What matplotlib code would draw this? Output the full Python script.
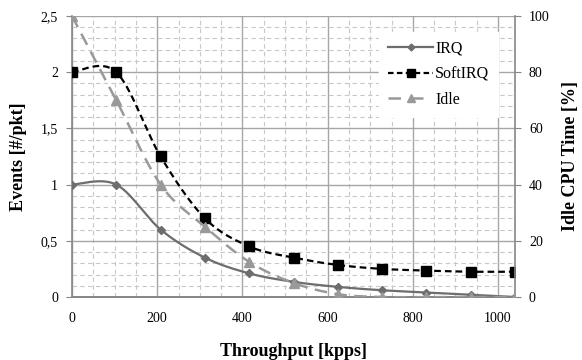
#!/usr/bin/env python3
"""Interrupt events and idle CPU time versus throughput (Excel-style smoothed lines)."""

import matplotlib

matplotlib.use("Agg")
import matplotlib.pyplot as plt
from matplotlib.ticker import FixedLocator, FuncFormatter, MultipleLocator
import numpy as np

plt.rcParams.update(
    {
        "font.family": ["Liberation Serif", "DejaVu Serif"],
        "font.size": 10,
    }
)

throughput = [0, 104, 208, 312, 416, 520, 624, 728, 832, 936, 1040]
irq = [1.0, 1.0, 0.6, 0.35, 0.21, 0.135, 0.09, 0.06, 0.04, 0.02, 0.0]
softirq = [2.0, 2.0, 1.25, 0.7, 0.45, 0.35, 0.285, 0.25, 0.235, 0.225, 0.225]
idle = [100, 70, 40, 25, 12.5, 5, 1, 0, 0, 0, 0]


def smooth(x, y, n=30):
    """Catmull-Rom curve through the points, like Excel's smoothed line."""
    pts = np.column_stack([x, y]).astype(float)
    ext = np.vstack([pts[0], pts, pts[-1]])
    out = []
    t = np.linspace(0.0, 1.0, n)[:, None]
    for i in range(len(pts) - 1):
        p0, p1, p2, p3 = ext[i], ext[i + 1], ext[i + 2], ext[i + 3]
        c1 = p1 + (p2 - p0) / 6.0
        c2 = p2 - (p3 - p1) / 6.0
        seg = ((1 - t) ** 3) * p1 + 3 * ((1 - t) ** 2) * t * c1 + 3 * (1 - t) * t ** 2 * c2 + t ** 3 * p2
        out.append(seg if i == 0 else seg[1:])
    seg = np.vstack(out)
    return seg[:, 0], seg[:, 1]


def comma(v, _pos):
    return f"{v:g}".replace(".", ",")


fig = plt.figure(figsize=(5.82, 3.6), dpi=100)
ax = fig.add_axes([0.1237, 0.175, 0.7613, 0.7806])
ax2 = ax.twinx()

grid_major = "#a6a6a6"
grid_minor = "#c8c8c8"
spine_col = "#868686"
irq_col = "#6d6d6d"
idle_col = "#999999"

ax.set_xlim(0, 1040)
ax.set_ylim(0, 2.5)
ax2.set_ylim(0, 100)

ax.xaxis.set_major_locator(FixedLocator([0, 200, 400, 600, 800, 1000]))
ax.xaxis.set_minor_locator(MultipleLocator(50))
ax.yaxis.set_major_locator(MultipleLocator(0.5))
ax.yaxis.set_minor_locator(MultipleLocator(0.1))
ax.yaxis.set_major_formatter(FuncFormatter(comma))
ax2.yaxis.set_major_locator(MultipleLocator(20))

ax.grid(which="minor", color=grid_minor, ls=(0, (4, 3)), lw=0.8)
ax.grid(which="major", color=grid_major, ls="-", lw=1.0)
ax.set_axisbelow(True)

for a in (ax, ax2):
    for sp in a.spines.values():
        sp.set_color(spine_col)
        sp.set_linewidth(1.2)
    a.spines["top"].set_visible(False)
    a.tick_params(which="major", length=4, color=spine_col, direction="out", pad=6, labelsize=10)
    a.tick_params(which="minor", length=0)
ax2.spines["left"].set_visible(False)
ax.spines["right"].set_visible(False)
ax.tick_params(axis="x", length=0, pad=11)

xs, ys = smooth(throughput, irq)
ax.plot(xs, ys, color=irq_col, lw=1.6, zorder=3)
ax.plot(throughput, irq, ls="none", marker="D", ms=4.5, color=irq_col, zorder=4)

xs, ys = smooth(throughput, softirq)
ax.plot(xs, ys, color="black", lw=1.6, ls=(0, (3, 1.8)), zorder=3)
ax.plot(throughput, softirq, ls="none", marker="s", ms=6.5, color="black", zorder=4)

xs, ys = smooth(throughput, idle)
ax2.plot(xs, ys, color=idle_col, lw=1.8, ls=(0, (5, 3)), zorder=3)
ax2.plot(throughput, idle, ls="none", marker="^", ms=6.5, color=idle_col, zorder=4)

# legend proxies combine line and marker
h1, = ax.plot([], [], color=irq_col, lw=1.6, marker="D", ms=3.5)
h2, = ax.plot([], [], color="black", lw=1.6, ls=(0, (2.5, 1.5)), marker="s", ms=5.5)
h3, = ax.plot([], [], color=idle_col, lw=1.8, ls=(0, (5, 4)), marker="^", ms=5.5)
leg = ax2.legend(
    [h1, h2, h3],
    ["IRQ", "SoftIRQ", "Idle"],
    loc="upper right",
    bbox_to_anchor=(0.962, 0.943),
    frameon=True,
    fancybox=False,
    framealpha=1.0,
    edgecolor="white",
    fontsize=11.5,
    handlelength=2.8,
    handletextpad=0.15,
    labelspacing=0.6,
    borderpad=0.55,
    borderaxespad=0.0,
)

ax.set_xlabel("Throughput [kpps]", fontsize=13, fontweight="bold", labelpad=13)
ax.set_ylabel("Events [#/pkt]", fontsize=13, fontweight="bold", labelpad=10)
ax2.set_ylabel("Idle CPU Time [%]", fontsize=13, fontweight="bold", labelpad=9)

fig.savefig("out.png", dpi=100)
